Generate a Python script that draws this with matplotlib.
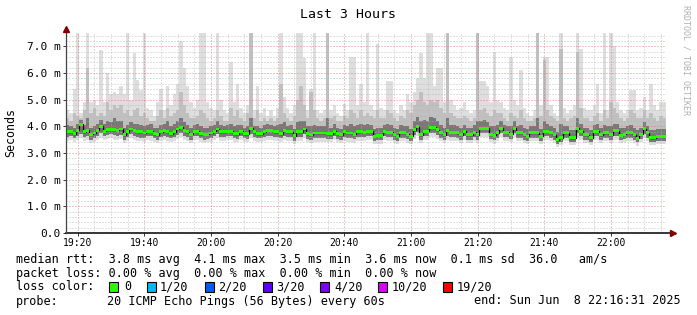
import numpy as np
import matplotlib.pyplot as plt
from matplotlib.patches import Rectangle

W, H = 697, 315
plt.rcParams['font.family'] = ['DejaVu Sans Mono']

# one column per 60 s step, 19:16:31 .. 22:16:31  (values in ms)
rtt_med = [
    3.79, 3.79, 3.73, 3.85, 4.08, 3.79, 3.85, 3.70, 3.75, 3.85,
    4.00, 3.82, 3.88, 3.88, 3.88, 3.86, 3.90, 3.68, 3.79, 3.90,
    3.85, 3.79, 3.79, 3.75, 3.82, 3.82, 3.73, 3.68, 3.79, 3.86,
    3.79, 3.73, 3.80, 3.90, 3.97, 3.86, 3.79, 3.70, 3.82, 3.82,
    3.73, 3.70, 3.70, 3.75, 3.82, 3.90, 3.79, 3.79, 3.82, 3.82,
    3.73, 3.73, 3.82, 3.73, 3.73, 3.92, 3.79, 3.73, 3.73, 3.79,
    3.85, 3.85, 3.79, 3.79, 3.73, 3.85, 3.79, 3.79, 3.64, 3.79,
    3.79, 3.90, 3.73, 3.68, 3.75, 3.75, 3.75, 3.75, 3.73, 3.73,
    3.82, 3.73, 3.68, 3.79, 3.75, 3.75, 3.70, 3.79, 3.79, 3.78,
    3.81, 3.81, 3.62, 3.66, 3.66, 3.81, 3.78, 3.78, 3.68, 3.62,
    3.76, 3.76, 3.71, 3.62, 3.87, 3.99, 3.68, 3.81, 3.81, 3.96,
    3.96, 3.87, 3.76, 3.68, 3.84, 3.78, 3.78, 3.76, 3.68, 3.81,
    3.68, 3.68, 3.78, 3.68, 3.93, 3.93, 3.93, 3.71, 3.66, 3.76,
    3.93, 3.78, 3.78, 3.71, 3.93, 3.76, 3.76, 3.68, 3.62, 3.76,
    3.76, 3.76, 3.62, 3.81, 3.81, 3.76, 3.68, 3.50, 3.58, 3.76,
    3.76, 3.58, 3.58, 3.93, 3.81, 3.68, 3.68, 3.58, 3.81, 3.81,
    3.68, 3.76, 3.76, 3.68, 3.84, 3.84, 3.66, 3.71, 3.76, 3.76,
    3.68, 3.55, 3.71, 3.91, 3.76, 3.58, 3.58, 3.62, 3.62, 3.62,
]
rtt_max = [
    4.6, 4.5, 5.4, 7.5, 4.5, 4.9, 7.5, 4.9, 5.0, 4.8,
    6.85, 4.9, 6.0, 5.2, 5.3, 5.2, 5.5, 5.2, 7.5, 5.0,
    6.74, 5.73, 5.35, 7.5, 4.7, 4.6, 4.4, 4.9, 5.4, 4.6,
    5.5, 4.8, 5.2, 5.6, 7.2, 6.2, 5.5, 4.9, 4.7, 5.0,
    7.5, 7.5, 4.9, 4.7, 4.6, 7.5, 5.0, 4.6, 4.5, 6.4,
    4.9, 5.6, 4.7, 4.5, 4.8, 7.5, 4.6, 5.5, 4.5, 4.7,
    4.4, 4.6, 4.4, 4.7, 7.5, 5.1, 4.7, 4.5, 4.8, 7.5,
    7.5, 6.55, 4.6, 5.4, 7.5, 4.6, 4.5, 4.6, 7.5, 4.6,
    4.8, 4.5, 4.4, 4.85, 4.6, 6.6, 6.6, 4.8, 5.6, 4.9,
    7.5, 4.8, 4.6, 7.1, 4.7, 4.6, 5.7, 5.7, 4.6, 4.5,
    4.8, 4.6, 5.2, 4.9, 5.3, 5.8, 6.75, 5.8, 7.5, 7.5,
    5.5, 6.2, 6.2, 4.9, 7.5, 5.0, 4.8, 4.6, 4.7, 4.9,
    4.6, 4.5, 4.6, 7.5, 5.7, 5.7, 5.5, 4.9, 6.8, 5.0,
    4.9, 4.7, 4.6, 6.6, 5.0, 4.8, 6.1, 4.7, 4.5, 4.4,
    4.6, 7.5, 4.8, 6.6, 6.6, 4.8, 4.5, 4.4, 7.5, 4.7,
    4.5, 4.6, 4.8, 7.5, 6.9, 4.7, 4.6, 4.6, 4.8, 5.6,
    4.5, 7.5, 4.6, 7.5, 7.0, 4.9, 4.6, 4.5, 4.6, 5.35,
    5.35, 4.6, 4.7, 5.1, 4.6, 5.6, 4.8, 4.6, 4.9, 4.9,
]
rtt_top = [
    4.3, 4.2, 4.5, 4.4, 4.3, 4.6, 6.2, 4.5, 4.7, 4.4,
    4.5, 4.4, 4.9, 4.6, 4.8, 4.7, 4.8, 4.5, 4.6, 4.4,
    4.6, 4.7, 4.4, 4.5, 4.3, 4.2, 4.2, 4.4, 4.6, 4.3,
    4.7, 4.4, 4.5, 4.6, 5.3, 4.8, 4.5, 4.3, 4.3, 4.4,
    4.6, 4.5, 4.3, 4.2, 4.3, 4.6, 4.4, 4.2, 4.2, 4.7,
    4.4, 4.6, 4.3, 4.2, 4.5, 7.5, 4.3, 4.6, 4.2, 4.3,
    4.2, 4.3, 4.2, 4.3, 5.6, 4.5, 4.3, 4.2, 4.4, 5.0,
    5.5, 4.8, 4.3, 5.3, 4.6, 4.3, 4.2, 4.3, 7.5, 4.3,
    4.4, 4.2, 4.2, 4.4, 4.3, 4.6, 4.5, 4.3, 4.6, 4.4,
    4.5, 4.4, 4.3, 4.6, 4.3, 4.3, 4.6, 4.5, 4.3, 4.2,
    4.4, 4.3, 4.6, 4.5, 4.8, 5.0, 5.3, 4.9, 4.8, 5.0,
    4.9, 5.0, 4.7, 4.5, 7.5, 4.5, 4.4, 4.3, 4.3, 4.4,
    4.3, 4.2, 4.3, 7.5, 4.6, 4.7, 4.5, 4.4, 4.6, 4.5,
    4.5, 4.3, 4.2, 4.5, 4.4, 4.3, 4.6, 4.3, 4.2, 4.2,
    4.3, 7.5, 4.4, 6.5, 4.6, 4.4, 4.3, 4.2, 6.9, 4.3,
    4.2, 4.3, 4.4, 6.8, 4.7, 4.3, 4.3, 4.2, 4.4, 4.5,
    4.2, 4.6, 4.3, 4.9, 4.7, 4.5, 4.3, 4.2, 4.3, 4.6,
    4.5, 4.3, 4.3, 4.6, 4.3, 4.5, 4.3, 4.2, 4.4, 4.3,
]
rtt_hi = [
    4.05, 4.0, 3.95, 4.1, 4.25, 4.05, 4.3, 3.95, 4.0, 4.1,
    4.25, 4.1, 4.2, 4.15, 4.3, 4.2, 4.2, 3.95, 4.05, 4.15,
    4.1, 4.1, 4.05, 4.0, 4.05, 4.1, 3.95, 3.95, 4.05, 4.1,
    4.2, 4.0, 4.1, 4.2, 4.3, 4.15, 4.05, 3.95, 4.05, 4.1,
    4.0, 3.95, 3.95, 4.0, 4.05, 4.2, 4.05, 4.0, 4.05, 4.1,
    4.0, 4.05, 4.05, 3.95, 4.0, 4.3, 4.0, 4.0, 3.95, 4.05,
    4.1, 4.05, 4.0, 4.05, 4.1, 4.15, 4.0, 4.05, 3.9, 4.15,
    4.2, 4.2, 4.0, 4.0, 4.05, 4.0, 4.0, 4.0, 4.3, 3.95,
    4.1, 3.95, 3.9, 4.05, 4.0, 4.1, 4.0, 4.05, 4.1, 4.05,
    4.1, 4.05, 3.9, 3.95, 3.95, 4.05, 4.1, 4.05, 3.95, 3.9,
    4.05, 4.0, 4.0, 3.9, 4.2, 4.35, 4.2, 4.25, 4.2, 4.35,
    4.3, 4.2, 4.05, 3.95, 4.3, 4.05, 4.05, 4.0, 3.95, 4.05,
    3.95, 3.95, 4.05, 4.2, 4.2, 4.25, 4.15, 4.0, 4.0, 4.05,
    4.2, 4.05, 4.0, 4.0, 4.2, 4.0, 4.05, 3.95, 3.9, 4.0,
    4.0, 4.3, 3.9, 4.2, 4.1, 4.0, 3.95, 3.8, 4.1, 4.0,
    4.0, 3.85, 3.85, 4.3, 4.1, 3.95, 3.95, 3.85, 4.05, 4.1,
    3.95, 4.05, 4.0, 4.0, 4.1, 4.1, 3.95, 3.95, 4.0, 4.05,
    3.95, 3.85, 3.95, 4.15, 4.0, 3.85, 3.85, 3.9, 3.9, 3.9,
]
rtt_lo = [
    3.6, 3.62, 3.55, 3.65, 3.7, 3.6, 3.62, 3.5, 3.55, 3.65,
    3.75, 3.62, 3.68, 3.7, 3.66, 3.64, 3.68, 3.5, 3.6, 3.7,
    3.65, 3.6, 3.58, 3.55, 3.62, 3.62, 3.55, 3.5, 3.6, 3.65,
    3.6, 3.55, 3.6, 3.68, 3.75, 3.65, 3.6, 3.5, 3.62, 3.62,
    3.55, 3.5, 3.52, 3.56, 3.62, 3.7, 3.6, 3.6, 3.62, 3.62,
    3.55, 3.54, 3.62, 3.55, 3.54, 3.7, 3.6, 3.55, 3.55, 3.6,
    3.65, 3.64, 3.6, 3.6, 3.55, 3.65, 3.6, 3.6, 3.46, 3.6,
    3.6, 3.7, 3.54, 3.5, 3.56, 3.56, 3.56, 3.56, 3.54, 3.54,
    3.62, 3.54, 3.5, 3.6, 3.56, 3.56, 3.52, 3.6, 3.6, 3.6,
    3.62, 3.62, 3.45, 3.48, 3.48, 3.62, 3.6, 3.6, 3.5, 3.45,
    3.58, 3.58, 3.52, 3.45, 3.68, 3.78, 3.5, 3.62, 3.62, 3.76,
    3.76, 3.68, 3.58, 3.5, 3.64, 3.6, 3.6, 3.58, 3.5, 3.62,
    3.5, 3.5, 3.6, 3.5, 3.74, 3.74, 3.74, 3.54, 3.48, 3.58,
    3.74, 3.6, 3.6, 3.54, 3.74, 3.58, 3.58, 3.5, 3.45, 3.58,
    3.58, 3.58, 3.45, 3.62, 3.62, 3.58, 3.5, 3.35, 3.42, 3.58,
    3.58, 3.42, 3.42, 3.74, 3.62, 3.5, 3.5, 3.42, 3.62, 3.62,
    3.5, 3.58, 3.58, 3.5, 3.65, 3.65, 3.5, 3.54, 3.58, 3.58,
    3.5, 3.4, 3.54, 3.72, 3.58, 3.42, 3.42, 3.46, 3.46, 3.46,
]
rtt_min = [
    3.45, 3.48, 3.42, 3.5, 3.55, 3.45, 3.5, 3.38, 3.42, 3.5,
    3.58, 3.48, 3.52, 3.55, 3.5, 3.5, 3.52, 3.38, 3.45, 3.55,
    3.5, 3.46, 3.44, 3.42, 3.48, 3.46, 3.42, 3.36, 3.46, 3.5,
    3.46, 3.42, 3.46, 3.52, 3.6, 3.5, 3.46, 3.36, 3.48, 3.48,
    3.42, 3.38, 3.4, 3.42, 3.48, 3.55, 3.46, 3.46, 3.48, 3.48,
    3.42, 3.4, 3.48, 3.42, 3.4, 3.55, 3.45, 3.42, 3.42, 3.46,
    3.5, 3.5, 3.46, 3.46, 3.42, 3.5, 3.46, 3.46, 3.32, 3.46,
    3.46, 3.55, 3.4, 3.36, 3.42, 3.42, 3.42, 3.42, 3.4, 3.4,
    3.48, 3.4, 3.36, 3.46, 3.42, 3.42, 3.38, 3.46, 3.46, 3.46,
    3.48, 3.48, 3.32, 3.35, 3.35, 3.48, 3.46, 3.46, 3.36, 3.32,
    3.44, 3.44, 3.38, 3.32, 3.54, 3.62, 3.36, 3.48, 3.48, 3.6,
    3.6, 3.54, 3.44, 3.36, 3.5, 3.46, 3.46, 3.44, 3.36, 3.48,
    3.36, 3.36, 3.46, 3.36, 3.6, 3.6, 3.6, 3.4, 3.34, 3.44,
    3.6, 3.46, 3.46, 3.4, 3.6, 3.44, 3.44, 3.36, 3.32, 3.44,
    3.44, 3.44, 3.32, 3.48, 3.48, 3.44, 3.36, 3.22, 3.3, 3.44,
    3.44, 3.3, 3.3, 3.6, 3.48, 3.36, 3.36, 3.3, 3.48, 3.48,
    3.36, 3.44, 3.44, 3.36, 3.5, 3.5, 3.36, 3.4, 3.44, 3.44,
    3.36, 3.28, 3.4, 3.58, 3.44, 3.3, 3.3, 3.34, 3.34, 3.34,
]

start_label = '19:16:31'
x_labels = ['19:20', '19:40', '20:00', '20:20', '20:40', '21:00', '21:20', '21:40', '22:00']
y_labels = ['0.0', '1.0 m', '2.0 m', '3.0 m', '4.0 m', '5.0 m', '6.0 m', '7.0 m']

legend_rows = [
    'median rtt:  3.8 ms avg  4.1 ms max  3.5 ms min  3.6 ms now  0.1 ms sd  36.0   am/s',
    'packet loss: 0.00 % avg  0.00 % max  0.00 % min  0.00 % now',
]
loss_labels = ['0', '1/20', '2/20', '3/20', '4/20', '10/20', '19/20']
loss_colors = ['#26ff00', '#00b8ff', '#0059ff', '#5e00ff', '#7e00ff', '#dd00ff', '#ff0000']
probe_text = '20 ICMP Echo Pings (56 Bytes) every 60s'
end_text = 'end: Sun Jun  8 22:16:31 2025'


def to_min(s):
    p = [int(v) for v in s.split(':')]
    return p[0] * 60 + p[1] + (p[2] / 60 if len(p) > 2 else 0)


t0 = to_min(start_label)
n = len(rtt_med)
edges = np.arange(n + 1)


def ext(a):
    a = np.asarray(a, dtype=float)
    return np.append(a, a[-1])


fig = plt.figure(figsize=(W / 100, H / 100), dpi=100)
fig.patch.set_facecolor('white')
ax = fig.add_axes([66 / W, 1 - 233 / H, 600 / W, 200 / H])

# smoke, outer pings lightest
ax.fill_between(edges, ext(rtt_min), ext(rtt_max), step='post', color='#dedede', lw=0, zorder=1)
ax.fill_between(edges, ext(rtt_lo), ext(rtt_top), step='post', color='#c0c0c0', lw=0, zorder=1.1)
ax.fill_between(edges, ext(rtt_lo), ext(rtt_hi), step='post', color='#787878', lw=0, zorder=1.2)

# median
med = ext(rtt_med)
ax.step(edges, med, where='post', color='black', lw=0.9, zorder=3)
ax.fill_between(edges, med - 0.055, med + 0.055, step='post', color=loss_colors[0], lw=0, zorder=3.5)

ax.set_xlim(0, n)
ax.set_ylim(0, 7.5)

major_x = [to_min(s) - t0 for s in x_labels]
ax.set_xticks(major_x)
ax.set_xticklabels(x_labels, fontsize=7)
ax.set_xticks(np.arange(major_x[0], n, 5), minor=True)
ax.set_yticks(range(len(y_labels)))
ax.set_yticklabels(y_labels, fontsize=8)
ax.set_yticks(np.arange(0, 7.5, 0.2), minor=True)
ax.tick_params(axis='both', which='major', length=2.2, width=0.7, pad=1.5, color='#333333')
ax.tick_params(axis='both', which='minor', length=0)

ax.set_axisbelow(False)
ax.grid(which='minor', color='#b4b4b4', alpha=0.8, linestyle=(0, (1, 2)), lw=0.72, zorder=2)
ax.grid(which='major', color='#e07070', alpha=0.8, linestyle=(0, (1, 2)), lw=0.72, zorder=2.1)

for s in ax.spines.values():
    s.set_visible(False)
ax.plot([0, 1.012], [0, 0], transform=ax.transAxes, color='black', lw=1.1, clip_on=False, zorder=5)
ax.plot([0, 0], [0, 1.022], transform=ax.transAxes, color='#444444', lw=0.9, clip_on=False, zorder=5)
ax.plot([1.012], [0], transform=ax.transAxes, marker='>', ms=4, color='#800000', clip_on=False, zorder=6)
ax.plot([0], [1.022], transform=ax.transAxes, marker='^', ms=4, color='#800000', clip_on=False, zorder=6)


def ftext(x, y, s, **kw):
    fig.text(x / W, 1 - y / H, s, va='center', **kw)


ftext(348, 14, 'Last 3 Hours', ha='center', fontsize=9.5)
ftext(11, 132, 'Seconds', ha='center', rotation=90, fontsize=8.4)
ftext(686, 60, 'RRDTOOL / TOBI OETIKER', ha='center', rotation=270, fontsize=6, color='#b0b0b0')

ftext(16, 259, legend_rows[0], fontsize=8.5)
ftext(16, 273, legend_rows[1], fontsize=8.5)
ftext(16, 287, 'loss color:', fontsize=8.5)
box_x = [109, 147, 205, 263, 320, 378, 443]
text_x = [124, 160, 218, 276, 334, 392, 457]
for bx, tx, lab, col in zip(box_x, text_x, loss_labels, loss_colors):
    fig.add_artist(Rectangle((bx / W, 1 - 292 / H), 9 / W, 10 / H, transform=fig.transFigure,
                             facecolor=col, edgecolor='black', lw=0.8))
    ftext(tx, 287, lab, fontsize=8.5)
ftext(16, 301, 'probe:', fontsize=8.5)
ftext(107, 301, probe_text, fontsize=8.5)
ftext(681, 301, end_text, ha='right', fontsize=8.5)

fig.savefig('out.png', dpi=100, facecolor='white')
